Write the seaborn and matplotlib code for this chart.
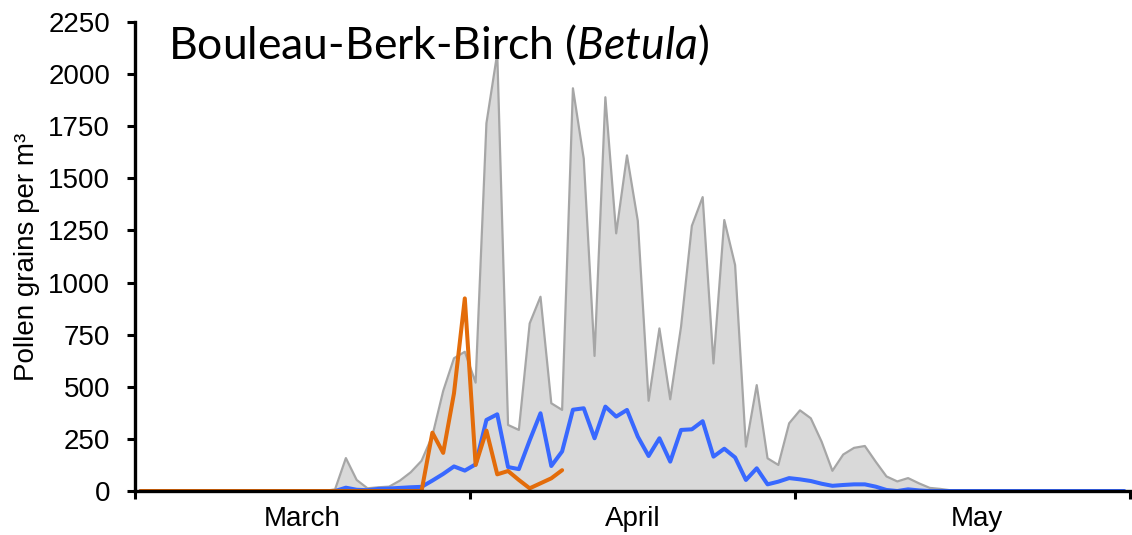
import numpy as np
import pandas as pd
import matplotlib
matplotlib.use("Agg")
import matplotlib.pyplot as plt
import seaborn as sns

# daily pollen counts, 1 March .. 31 May (92 days)
season_max = [0] * 18 + [
    8, 158, 53, 13, 18, 21, 50, 90, 145, 265,
    480, 637, 668, 520, 1764, 2100, 317, 293, 804, 932,
    421, 389, 1932, 1595, 648, 1889, 1236, 1610, 1296, 433,
    780, 440, 788, 1272, 1410, 612, 1300, 1084, 213, 508,
    157, 125, 325, 387, 349, 237, 97, 175, 207, 216,
    141, 70, 46, 62, 37, 15, 10, 3,
] + [0] * 16

season_mean = [0] * 19 + [
    16, 6, 4, 10, 12, 15, 18, 20, 50, 82,
    118, 98, 128, 341, 368, 115, 105, 243, 373, 120,
    190, 390, 397, 253, 405, 357, 389, 261, 168, 253,
    141, 293, 296, 335, 165, 203, 161, 53, 109, 32,
    45, 62, 56, 48, 35, 25, 29, 32, 32, 21,
    5, 0, 8, 3,
] + [0] * 19

current_year = [0] * 27 + [280, 183, 469, 924, 125, 290, 80, 96, 53, 13, 37, 61, 100]

months = ["March", "April", "May"]
month_days = [31, 30, 31]
month_label_pos = [15.5, 46.0, 77.9]
yticks = list(range(0, 2251, 250))

day = np.arange(len(season_max)) + 0.5
df = pd.DataFrame({"day": day, "max": season_max, "mean": season_mean})
cur = pd.DataFrame({"day": day[:len(current_year)], "count": current_year})

sns.set_style("ticks")
plt.rcParams["font.family"] = ["Liberation Sans", "DejaVu Sans"]
plt.rcParams["text.color"] = "black"
plt.rcParams["axes.labelcolor"] = "black"
plt.rcParams["xtick.color"] = "black"
plt.rcParams["ytick.color"] = "black"
plt.rcParams["mathtext.fontset"] = "custom"
plt.rcParams["mathtext.rm"] = "Lato"
plt.rcParams["mathtext.it"] = "Lato:italic"

fig = plt.figure(figsize=(11.32, 5.35), dpi=100)
ax = fig.add_axes([0.1193, 0.0822, 0.8787, 0.8767])

ax.fill_between(df["day"], df["max"], color="#d9d9d9", lw=0)
sns.lineplot(data=df, x="day", y="max", ax=ax, color="#a6a6a6", lw=1.6)
sns.lineplot(data=df, x="day", y="mean", ax=ax, color="#3868ff", lw=2.9)
sns.lineplot(data=cur, x="day", y="count", ax=ax, color="#e36c0a", lw=2.9)

ax.set_xlim(0, len(season_max))
ax.set_ylim(0, 2250)
ax.set_yticks(yticks)
ax.set_yticklabels([str(v) for v in yticks], fontsize=20)
ax.set_xticks(np.cumsum([0] + month_days))
ax.set_xticklabels([])
ax.set_xticks(month_label_pos, minor=True)
ax.set_xticklabels(months, minor=True, fontsize=20)
ax.tick_params(axis="x", which="minor", length=0, pad=11)
ax.tick_params(axis="both", which="major", direction="out", length=6, width=2.2, color="black")
ax.tick_params(axis="y", pad=12)

for side in ["top", "right"]:
    ax.spines[side].set_visible(False)
for side in ["left", "bottom"]:
    ax.spines[side].set_linewidth(2.4)
    ax.spines[side].set_color("black")

ax.set_xlabel("")
ax.set_ylabel("Pollen grains per m³", fontsize=20, labelpad=6)
ax.text(0.033, 0.997, r"Bouleau-Berk-Birch ($\mathit{Betula}$)", transform=ax.transAxes,
        fontsize=32, va="top", ha="left", family="Lato")

plt.savefig("out.png", dpi=100)
